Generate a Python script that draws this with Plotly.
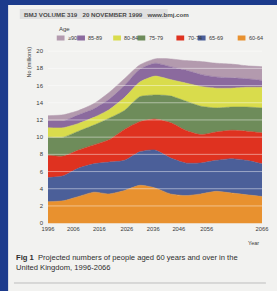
import plotly.graph_objects as go

# ---- data (millions, per age group, stacked bottom -> top) ----
years = [1996, 2001, 2006, 2011, 2016, 2021, 2026, 2031, 2036, 2041, 2046, 2051, 2056, 2061, 2066]
age_60_64 = [2.5, 2.6, 3.1, 3.6, 3.4, 3.8, 4.4, 4.1, 3.4, 3.2, 3.4, 3.7, 3.5, 3.3, 3.1]
age_65_69 = [2.8, 2.9, 3.3, 3.3, 3.7, 3.5, 3.9, 4.4, 4.2, 3.8, 3.6, 3.6, 4.0, 4.0, 3.8]
age_70_74 = [2.6, 2.3, 2.1, 2.2, 2.6, 3.6, 3.5, 3.6, 4.1, 3.8, 3.3, 3.3, 3.3, 3.4, 3.6]
age_75_79 = [2.1, 2.2, 2.2, 2.3, 2.5, 2.2, 2.9, 2.8, 3.1, 3.4, 3.3, 2.8, 2.7, 2.8, 2.9]
age_80_84 = [1.1, 1.1, 0.9, 0.9, 1.0, 1.5, 1.7, 2.2, 1.9, 2.1, 2.3, 2.3, 2.2, 2.3, 2.4]
age_85_89 = [0.8, 0.8, 1.0, 1.0, 1.2, 1.4, 1.5, 1.5, 1.5, 1.5, 1.4, 1.3, 1.2, 1.0, 0.8]
age_90_up = [0.6, 0.7, 0.5, 0.6, 0.8, 0.8, 0.5, 0.5, 0.9, 1.1, 1.5, 1.6, 1.6, 1.5, 1.6]

group_names = ["60-64", "65-69", "70-74", "75-79", "80-84", "85-89", "\u226590"]
group_values = [age_60_64, age_65_69, age_70_74, age_75_79, age_80_84, age_85_89, age_90_up]
group_colors = ["#e8912f", "#4b5f99", "#df3220", "#6e8c5a", "#d9dc4c", "#8b6a9e", "#b39aae"]

y_ticks = [0, 2, 4, 6, 8, 10, 12, 14, 16, 18, 20]
x_tick_labels = ["1996", "2006", "2016", "2026", "2036", "2046", "2056", "2066"]
x_tick_pos = [1996, 2004.3, 2012.8, 2021.8, 2030.4, 2038.8, 2047.9, 2066]

# ---- geometry helpers (pixel -> paper) ----
W, H = 277, 291
L, R, T, B = 48, 9, 46, 67
PW, PH = W - L - R, H - T - B


def px(x):
    return (x - L) / PW


def py(y):
    return (H - B - y) / PH


FONT = "Liberation Sans, Arial, sans-serif"
TXT = "#3a3a3a"

fig = go.Figure()
for name, vals, col in zip(group_names, group_values, group_colors):
    fig.add_trace(go.Scatter(
        x=years, y=vals, name=name, stackgroup="one", mode="lines",
        line=dict(width=0.5, color=col, shape="spline", smoothing=0.6),
        fillcolor=col, showlegend=False, hoverinfo="skip",
    ))

shapes = []
# page background
shapes.append(dict(type="rect", xref="paper", yref="paper", layer="below",
                   x0=px(7), x1=px(290), y0=py(300), y1=py(5),
                   fillcolor="#f2f2f0", line=dict(width=0)))
# header box
shapes.append(dict(type="rect", xref="paper", yref="paper", layer="below",
                   x0=px(19), x1=px(171), y0=py(19), y1=py(9),
                   fillcolor="#e0e0e0", line=dict(width=0)))
# gridlines over areas
for v in y_ticks[1:]:
    shapes.append(dict(type="line", xref="paper", yref="y", layer="above",
                       x0=0, x1=1, y0=v, y1=v,
                       line=dict(color="rgba(255,255,255,0.45)", width=1)))
# rule under caption
shapes.append(dict(type="line", xref="paper", yref="paper",
                   x0=px(13), x1=px(272), y0=py(283), y1=py(283),
                   line=dict(color="#bdbdbd", width=1)))

annotations = []
annotations.append(dict(text="<b>BMJ VOLUME 319   20 NOVEMBER 1999   www.bmj.com</b>",
                        xref="paper", yref="paper", x=px(21), y=py(14),
                        xanchor="left", yanchor="middle", showarrow=False,
                        font=dict(family=FONT, size=6.2, color="#4a4a4a")))
annotations.append(dict(text="Age", xref="paper", yref="paper", x=px(57), y=py(29),
                        xanchor="left", yanchor="middle", showarrow=False,
                        font=dict(family=FONT, size=6, color=TXT)))
annotations.append(dict(text="No (millions)", xref="paper", yref="paper", x=px(28), y=py(62),
                        xanchor="center", yanchor="middle", textangle=-90, showarrow=False,
                        font=dict(family=FONT, size=5.5, color=TXT)))
annotations.append(dict(text="Year", xref="paper", yref="paper", x=px(267), y=py(243),
                        xanchor="right", yanchor="middle", showarrow=False,
                        font=dict(family=FONT, size=5.5, color=TXT)))
annotations.append(dict(text="<b>Fig 1</b>  Projected numbers of people aged 60 years and over in the",
                        xref="paper", yref="paper", x=px(13), y=py(257),
                        xanchor="left", yanchor="middle", showarrow=False,
                        font=dict(family=FONT, size=7.6, color="#2e2e2e")))
annotations.append(dict(text="United Kingdom, 1996-2066",
                        xref="paper", yref="paper", x=px(13), y=py(267),
                        xanchor="left", yanchor="middle", showarrow=False,
                        font=dict(family=FONT, size=7.6, color="#2e2e2e")))

# legend (top -> bottom order of stack shown left -> right)
legend_x = [57, 78, 115, 140, 180, 202, 243]
for lx, name, col in zip(legend_x, group_names[::-1], group_colors[::-1]):
    shapes.append(dict(type="rect", xref="paper", yref="paper",
                       x0=px(lx), x1=px(lx + 8), y0=py(40.5), y1=py(35.5),
                       fillcolor=col, line=dict(width=0)))
    annotations.append(dict(text=name, xref="paper", yref="paper", x=px(lx + 9.5), y=py(38),
                            xanchor="left", yanchor="middle", showarrow=False,
                            font=dict(family=FONT, size=5.5, color=TXT)))

fig.update_layout(
    width=W, height=H,
    margin=dict(l=L, r=R, t=T, b=B, pad=0),
    paper_bgcolor="#1c3b8c",
    plot_bgcolor="#c0d5ea",
    showlegend=False,
    shapes=shapes,
    annotations=annotations,
    xaxis=dict(range=[1996, 2066], tickvals=x_tick_pos, ticktext=x_tick_labels,
               showgrid=False, zeroline=False, showline=False, ticks="",
               tickfont=dict(family=FONT, size=5.8, color=TXT), fixedrange=True),
    yaxis=dict(range=[-0.1, 20.6], tickvals=y_ticks, showgrid=False, zeroline=False,
               showline=False, ticks="", ticklabelstandoff=4,
               tickfont=dict(family=FONT, size=6, color=TXT), fixedrange=True),
)

fig.write_html(
    "out.html",
    config={"displayModeBar": False, "staticPlot": True},
    post_script="document.body.style.margin='0';document.body.style.overflow='hidden';",
)
